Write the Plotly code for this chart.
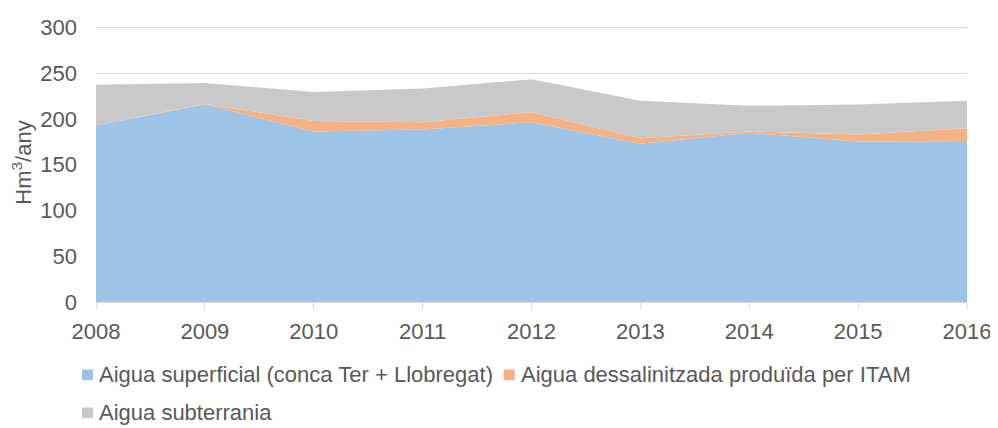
import plotly.graph_objects as go

years = [2008, 2009, 2010, 2011, 2012, 2013, 2014, 2015, 2016]
superficial = [193, 216, 186.5, 188.5, 196.5, 173, 185, 175.5, 175]
dessalinitzada = [0, 0.5, 11.5, 8, 11, 6, 1.5, 7.5, 15]
subterrania = [44.5, 23, 31.5, 37, 36, 41, 28, 33, 30]

names = ["Aigua superficial (conca Ter + Llobregat)",
         "Aigua dessalinitzada produïda per ITAM",
         "Aigua subterrania"]
colors = ["#9DC3E6", "#F4B183", "#C9C9C9"]
series = [superficial, dessalinitzada, subterrania]

# page body has an 8px margin; figure size/margins compensate for it
OFF = 8
W, H = 998 - OFF, 428 - OFF
L, R, T, B = 88, 28, 7, 126
pw, ph = W - L - R, H - T - B

FONT = "Liberation Sans, Arial, sans-serif"
TXT = "#595959"
FS = 22

fig = go.Figure()
for name, col, vals in zip(names, colors, series):
    fig.add_trace(go.Scatter(
        x=years, y=vals, name=name, stackgroup="one", mode="none",
        fillcolor=col, showlegend=False, hoverinfo="x+y+name"))

# custom legend (square + text); window-pixel layout converted to paper coords
leg_px = [(82, 377), (505, 377), (82, 416)]
sq = 11


def px2x(px):
    return (px - OFF - L) / pw


def py2y(py):
    return (T + ph - (py - OFF)) / ph


for (px, py), name, col in zip(leg_px, names, colors):
    fig.add_shape(type="rect", xref="paper", yref="paper",
                  x0=px2x(px), x1=px2x(px + sq),
                  y0=py2y(py + sq / 2), y1=py2y(py - sq / 2),
                  fillcolor=col, line=dict(width=0))
    fig.add_annotation(xref="paper", yref="paper",
                       x=px2x(px + sq + 4), y=py2y(py),
                       xanchor="left", yanchor="middle", showarrow=False,
                       text=name, font=dict(family=FONT, size=FS, color=TXT))

fig.update_layout(
    width=W, height=H,
    margin=dict(l=L, r=R, t=T, b=B),
    paper_bgcolor="white", plot_bgcolor="white",
    font=dict(family=FONT, size=FS, color=TXT),
    showlegend=False,
    xaxis=dict(range=[2008, 2016], tickmode="array", tickvals=years,
               ticktext=[str(y) for y in years],
               showgrid=False, zeroline=False,
               showline=True, linecolor="#D9D9D9", linewidth=1,
               ticks="outside", ticklen=6, tickcolor="#D9D9D9",
               ticklabelstandoff=4,
               tickfont=dict(family=FONT, size=FS, color=TXT)),
    yaxis=dict(range=[0, 305], tickmode="linear", tick0=0, dtick=50,
               showgrid=True, gridcolor="#D9D9D9", gridwidth=1,
               zeroline=False, showline=False, ticks="",
               ticklabelstandoff=18, ticklabeloverflow="allow",
               tickfont=dict(family=FONT, size=FS, color=TXT),
               title=dict(text="Hm<sup>3</sup>/any", standoff=6,
                          font=dict(family=FONT, size=FS, color=TXT))),
)

fig.write_html("out.html")
